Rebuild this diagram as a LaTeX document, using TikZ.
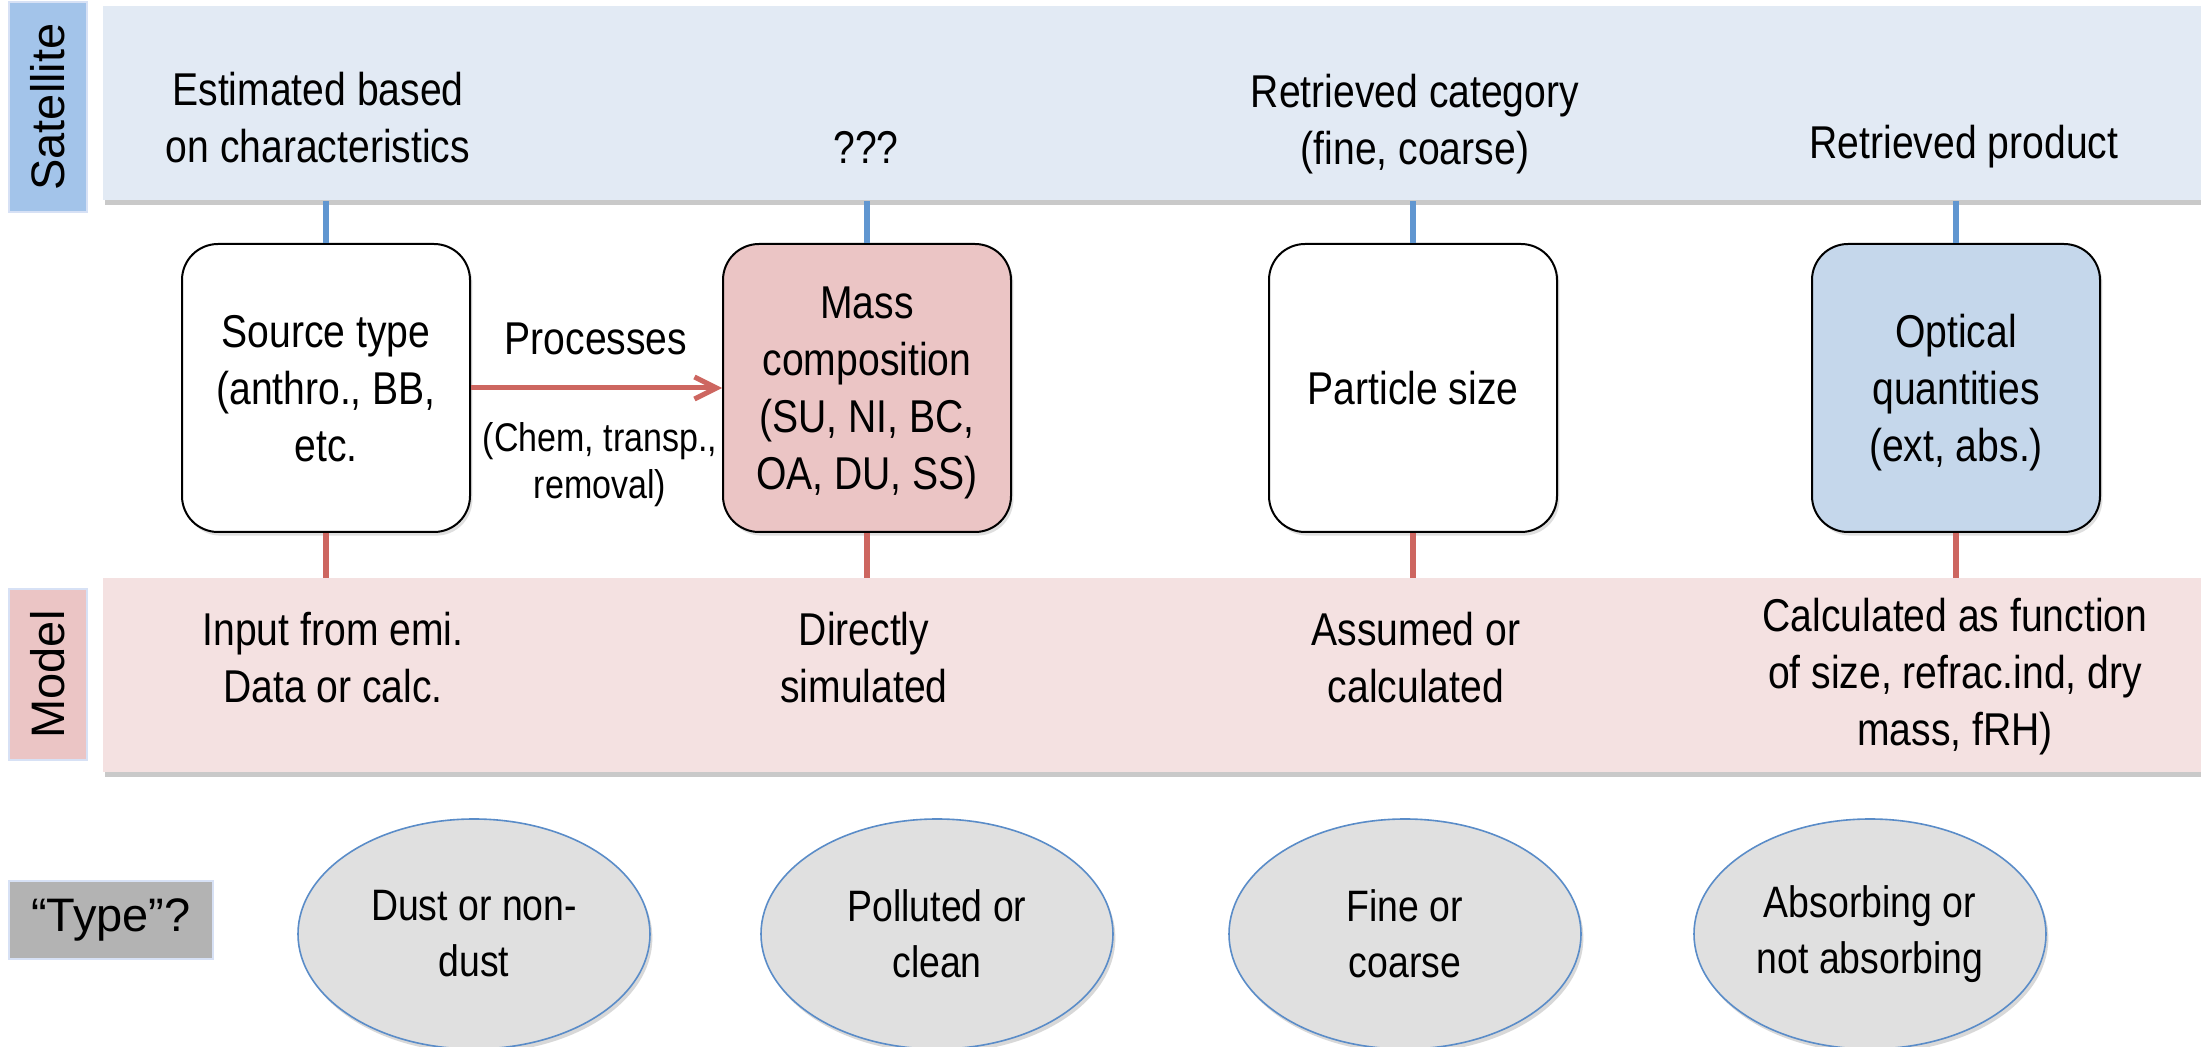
\documentclass[tikz,border=0pt]{standalone}
\usepackage{fontspec}
\setmainfont[FakeStretch=0.85]{Liberation Sans}
\newfontfamily\plainsans{Liberation Sans}
\usetikzlibrary{shapes.geometric,arrows.meta,shadows}
\definecolor{satfill}{RGB}{226,234,244}
\definecolor{satlabfill}{RGB}{163,196,234}
\definecolor{modfill}{RGB}{244,225,225}
\definecolor{modlabfill}{RGB}{235,197,197}
\definecolor{massfill}{RGB}{235,197,197}
\definecolor{optfill}{RGB}{197,215,235}
\definecolor{ellfill}{RGB}{224,224,224}
\definecolor{ellline}{RGB}{90,140,200}
\definecolor{bluecon}{RGB}{96,150,208}
\definecolor{redcon}{RGB}{205,102,96}
\definecolor{typefill}{RGB}{179,179,179}
\definecolor{labline}{RGB}{215,225,245}
\begin{document}
\begin{tikzpicture}[x=0.5pt,y=-0.5pt,
  txt/.style={inner sep=0pt, align=center, font=\fontsize{23}{28.5}\selectfont},
  band/.style={inner sep=0pt, draw=none, anchor=north west,
    drop shadow={shadow xshift=1pt, shadow yshift=-2.5pt, opacity=0.35, fill=black!60}},
  lablbox/.style={inner sep=0pt, draw=labline, line width=0.8pt, font=\plainsans\fontsize{23.5}{28}\selectfont},
  stepbox/.style={draw=black, line width=1pt, rounded corners=18pt, minimum width=144pt,
    minimum height=144pt, inner sep=0pt, align=center, font=\fontsize{23}{28.5}\selectfont,
    text depth=0pt,
    drop shadow={shadow xshift=1.2pt, shadow yshift=-1.8pt, opacity=0.25, fill=black!50}},
  ell/.style={ellipse, draw=ellline, line width=0.8pt, fill=ellfill, minimum width=176pt,
    minimum height=115pt, inner sep=0pt, align=center, font=\fontsize{22}{28}\selectfont,
    drop shadow={shadow xshift=1.2pt, shadow yshift=-2pt, opacity=0.3, fill=black!50}},
  bcon/.style={draw=bluecon, line width=2.75pt},
  rcon/.style={draw=redcon, line width=2.75pt},
  procarrow/.style={draw=redcon, line width=2.5pt, -{Straight Barb[length=11pt,width=11pt,line width=2.5pt]}}
]
\useasboundingbox[fill=white] (0,0) rectangle (2201,1047);

% bands
\node[band, fill=satfill, minimum width=1049pt, minimum height=97pt] (sat) at (103,6) {};
\node[band, fill=modfill, minimum width=1049pt, minimum height=97pt] (mod) at (103,578) {};

% row labels
\node[lablbox, fill=satlabfill, rotate=90, minimum width=105pt, minimum height=39pt] (satlab) at (48,107) {Satellite};
\node[lablbox, fill=modlabfill, rotate=90, minimum width=85.5pt, minimum height=39pt] (modlab) at (48,674.5) {Model};
\node[lablbox, fill=typefill, minimum width=102pt, minimum height=39pt] (typelab) at (111,920) {“Type”?};

% main boxes
\node[stepbox, fill=white] (src) at (326,388) {Source type\\(anthro., BB,\\etc.};
\node[stepbox, fill=massfill] (mass) at (867,388) {Mass\\composition\\(SU, NI, BC,\\OA, DU, SS)};
\node[stepbox, fill=white] (part) at (1413,388) {Particle size};
\node[stepbox, fill=optfill] (opt) at (1956,388) {Optical\\quantities\\(ext, abs.)};

% connectors to bands
\foreach \b in {src,mass,part,opt}{
  \draw[bcon] (\b.north) -- (\b.north |- sat.south);
  \draw[rcon] (\b.south) -- (\b.south |- mod.north);
}

% processes arrow
\draw[procarrow] (src.east) -- (mass.west);
\node[txt] (proc) at (596,339) {Processes};
\node[txt, font=\fontsize{20}{23.5}\selectfont] (procsub) at (600,465) {(Chem, transp.,\\removal)};

% satellite texts
\node[txt] (s1) at (318,118) {Estimated based\\on characteristics};
\node[txt] (s2) at (866,147) {???};
\node[txt] (s3) at (1415,124) {Retrieved category\\(fine, coarse)};
\node[txt] (s4) at (1964,147) {Retrieved product};

% model texts
\node[txt] (m1) at (333,658) {Input from emi.\\Data or calc.};
\node[txt] (m2) at (864,658) {Directly\\simulated};
\node[txt] (m3) at (1416,658) {Assumed or\\calculated};
\node[txt] (m4) at (1955,677) {Calculated as function\\of size, refrac.ind, dry\\mass, fRH)};

% type ellipses
\node[ell] (e1) at (474,934) {Dust or non-\\dust};
\node[ell] (e2) at (937,934) {Polluted or\\clean};
\node[ell] (e3) at (1405,934) {Fine or\\coarse};
\node[ell] (e4) at (1870,934) {Absorbing or\\not absorbing};
\end{tikzpicture}
\end{document}
